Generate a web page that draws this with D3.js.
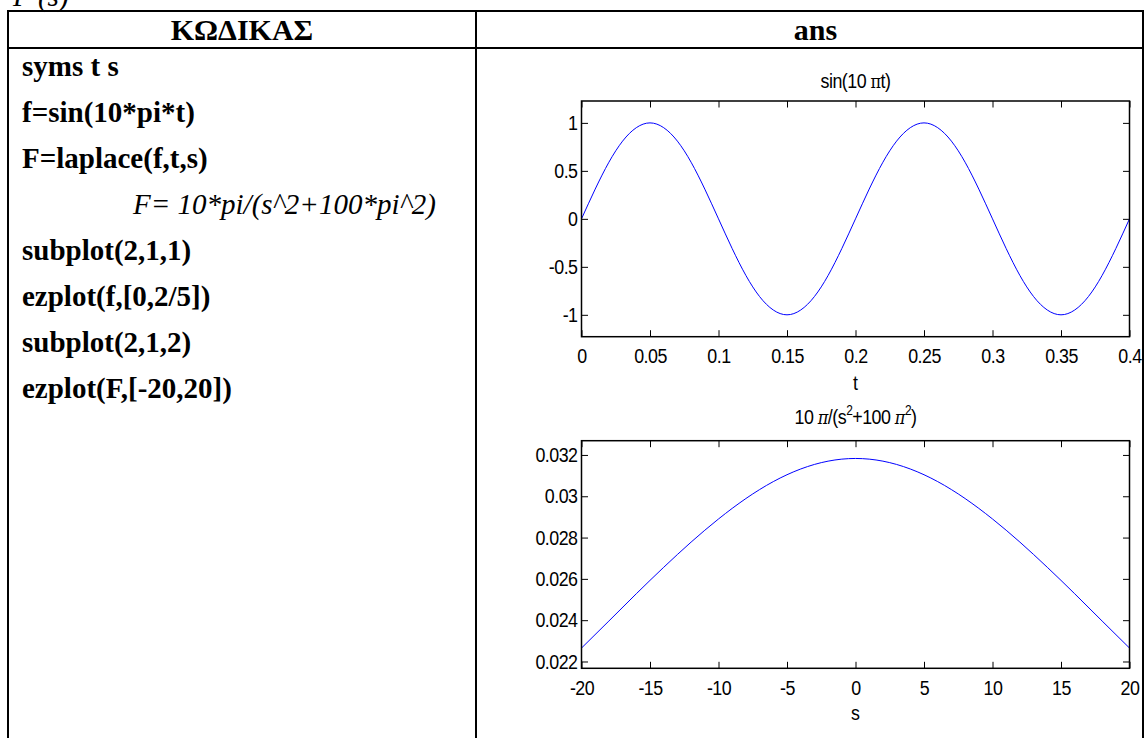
<!DOCTYPE html>
<html><head><meta charset="utf-8">
<script src="https://cdn.jsdelivr.net/npm/d3@7"></script>
<style>body{margin:0;background:#fff;} svg{display:block}</style>
</head><body>
<svg id="c" width="1145" height="738"></svg>
<script>
// ---- data ----
const topNote = "F (s)";
const headers = ["ΚΩΔΙΚΑΣ", "ans"];
const codeLines = ["syms t s", "f=sin(10*pi*t)", "F=laplace(f,t,s)", "F= 10*pi/(s^2+100*pi^2)",
  "subplot(2,1,1)", "ezplot(f,[0,2/5])", "subplot(2,1,2)", "ezplot(F,[-20,20])"];
const codeItalic = [false, false, false, true, false, false, false, false];

const tValues = [0,0.01,0.02,0.03,0.04,0.05,0.06,0.07,0.08,0.09,0.1,0.11,0.12,0.13,0.14,0.15,0.16,0.17,0.18,0.19,0.2,
  0.21,0.22,0.23,0.24,0.25,0.26,0.27,0.28,0.29,0.3,0.31,0.32,0.33,0.34,0.35,0.36,0.37,0.38,0.39,0.4];
const sinValues = [0,0.31,0.59,0.81,0.95,1,0.95,0.81,0.59,0.31,0,-0.31,-0.59,-0.81,-0.95,-1,-0.95,-0.81,-0.59,-0.31,0,
  0.31,0.59,0.81,0.95,1,0.95,0.81,0.59,0.31,0,-0.31,-0.59,-0.81,-0.95,-1,-0.95,-0.81,-0.59,-0.31,0];
const tTicks = [0,0.05,0.1,0.15,0.2,0.25,0.3,0.35,0.4];
const tTickLabels = ["0","0.05","0.1","0.15","0.2","0.25","0.3","0.35","0.4"];
const y1Ticks = [-1,-0.5,0,0.5,1];
const y1TickLabels = ["-1","-0.5","0","0.5","1"];

const sValues = [-20,-18,-16,-14,-12,-10,-8,-6,-4,-2,0,2,4,6,8,10,12,14,16,18,20];
const FValues = [0.02265,0.02396,0.02528,0.02656,0.02778,0.02890,0.02989,0.03071,0.03132,0.03170,0.03183,
  0.03170,0.03132,0.03071,0.02989,0.02890,0.02778,0.02656,0.02528,0.02396,0.02265];
const sTicks = [-20,-15,-10,-5,0,5,10,15,20];
const sTickLabels = ["-20","-15","-10","-5","0","5","10","15","20"];
const y2Ticks = [0.022,0.024,0.026,0.028,0.03,0.032];
const y2TickLabels = ["0.022","0.024","0.026","0.028","0.03","0.032"];

// ---- drawing ----
const svg = d3.select("#c");
const serif = "'Liberation Serif','Times New Roman',serif";
const sans = "'Liberation Sans',Arial,Helvetica,sans-serif";

// partial top note (cut by the page edge, as in the source)
svg.append("text").attr("x", 13).attr("y", 6).attr("font-family", serif)
  .attr("font-style", "italic").attr("font-size", 29).text(topNote);

// table lines
const T = {left: 8, mid: 476, right: 1143, top: 11, head: 48, bottom: 745};
const tl = svg.append("g").attr("stroke", "#000").attr("stroke-width", 2);
tl.append("line").attr("x1", T.left - 1).attr("x2", T.right + 1).attr("y1", T.top).attr("y2", T.top);
tl.append("line").attr("x1", T.left - 1).attr("x2", T.right + 1).attr("y1", T.head).attr("y2", T.head);
[T.left, T.mid, T.right].forEach(x => tl.append("line").attr("x1", x).attr("x2", x).attr("y1", T.top - 1).attr("y2", T.bottom));

// headers
svg.append("text").attr("x", (T.left + T.mid) / 2).attr("y", 40).attr("text-anchor", "middle")
  .attr("font-family", serif).attr("font-weight", "bold").attr("font-size", 30).text(headers[0]);
svg.append("text").attr("x", (T.mid + T.right) / 2 + 6).attr("y", 40).attr("text-anchor", "middle")
  .attr("font-family", serif).attr("font-weight", "bold").attr("font-size", 30).text(headers[1]);

// code lines
codeLines.forEach((s, i) => {
  svg.append("text").attr("x", codeItalic[i] ? 133 : 22).attr("y", 76 + i * 46)
    .attr("font-family", serif).attr("font-size", 29)
    .attr("font-weight", codeItalic[i] ? "normal" : "bold")
    .attr("font-style", codeItalic[i] ? "italic" : "normal")
    .text(s);
});

const FS = 21, SX = 0.85;
function squeeze(sel) {
  sel.each(function () {
    const t = d3.select(this);
    const x = +t.attr("x") || 0, y = +t.attr("y") || 0;
    t.attr("transform", `translate(${x},${y}) scale(${SX},1) translate(${-x},${-y})`);
  });
}
function drawPlot(cfg, id) {
  const x = d3.scaleLinear().domain(cfg.xDomain).range([cfg.x0, cfg.x1]);
  const y = d3.scaleLinear().domain(cfg.yDomain).range([cfg.y1, cfg.y0]);
  const g = svg.append("g");
  g.append("clipPath").attr("id", id).append("rect")
    .attr("x", cfg.x0).attr("y", cfg.y0).attr("width", cfg.x1 - cfg.x0).attr("height", cfg.y1 - cfg.y0);
  const style = sel => {
    sel.select(".domain").remove();
    sel.attr("font-family", sans).attr("font-size", FS);
    sel.selectAll("line").attr("stroke", "#000").attr("stroke-width", 1);
    sel.selectAll("text").attr("fill", "#000").attr("letter-spacing", -0.6).call(squeeze);
  };
  g.append("g").attr("transform", `translate(0,${cfg.y1})`)
    .call(d3.axisBottom(x).tickValues(cfg.xTicks).tickFormat((d, i) => cfg.xLabels[i])
      .tickSizeInner(-6.5).tickSizeOuter(0).tickPadding(cfg.xPad)).call(style);
  g.append("g").attr("transform", `translate(0,${cfg.y0})`)
    .call(d3.axisTop(x).tickValues(cfg.xTicks).tickFormat("").tickSizeInner(-6.5).tickSizeOuter(0)).call(style);
  g.append("g").attr("transform", `translate(${cfg.x0},0)`)
    .call(d3.axisLeft(y).tickValues(cfg.yTicks).tickFormat((d, i) => cfg.yLabels[i])
      .tickSizeInner(-6.5).tickSizeOuter(0).tickPadding(4)).call(style);
  g.append("g").attr("transform", `translate(${cfg.x1},0)`)
    .call(d3.axisRight(y).tickValues(cfg.yTicks).tickFormat("").tickSizeInner(-6.5).tickSizeOuter(0)).call(style);
  // curve
  g.append("path").datum(cfg.xs.map((v, i) => [v, cfg.ys[i]]))
    .attr("clip-path", `url(#${id})`)
    .attr("fill", "none").attr("stroke", "#0000ff").attr("stroke-width", 1)
    .attr("d", d3.line().x(d => x(d[0])).y(d => y(d[1])).curve(d3.curveNatural));
  // box
  g.append("rect").attr("x", cfg.x0).attr("y", cfg.y0).attr("width", cfg.x1 - cfg.x0).attr("height", cfg.y1 - cfg.y0)
    .attr("fill", "none").attr("stroke", "#000").attr("stroke-width", 1.5);
  // title and label
  const cx = (cfg.x0 + cfg.x1) / 2;
  const tt = g.append("text").attr("x", cx).attr("y", cfg.titleY).attr("text-anchor", "middle")
    .attr("font-family", sans).attr("font-size", FS).attr("letter-spacing", -0.6);
  cfg.title(tt);
  const xl = g.append("text").attr("x", cx).attr("y", cfg.xlabelY).attr("text-anchor", "middle")
    .attr("font-family", sans).attr("font-size", FS).text(cfg.xlabel);
  squeeze(tt); squeeze(xl);
}

drawPlot({
  x0: 581.5, x1: 1129.5, y0: 101, y1: 336.7,
  xDomain: [0, 0.4], yDomain: [-1.228, 1.228], xPad: 11,
  xTicks: tTicks, xLabels: tTickLabels, yTicks: y1Ticks, yLabels: y1TickLabels,
  xs: tValues, ys: sinValues, titleY: 88, xlabelY: 390.5, xlabel: "t",
  title: t => {
    t.append("tspan").text("sin(10 ");
    t.append("tspan").attr("font-family", "'DejaVu Serif',serif").attr("font-size", 19).text("π");
    t.append("tspan").text("t)");
  }
}, "clip1");

drawPlot({
  x0: 581.5, x1: 1129.5, y0: 440.7, y1: 668.3,
  xDomain: [-20, 20], yDomain: [0.02167, 0.03269], xPad: 12,
  xTicks: sTicks, xLabels: sTickLabels, yTicks: y2Ticks, yLabels: y2TickLabels,
  xs: sValues, ys: FValues, titleY: 424, xlabelY: 720.5, xlabel: "s",
  title: t => {
    t.append("tspan").text("10 ");
    t.append("tspan").attr("font-family", "'DejaVu Serif',serif").attr("font-style", "italic").attr("font-size", 19).text("π");
    t.append("tspan").text("/(s");
    t.append("tspan").attr("font-size", 14).attr("dy", -9).text("2");
    t.append("tspan").attr("dy", 9).text("+100 ");
    t.append("tspan").attr("font-family", "'DejaVu Serif',serif").attr("font-style", "italic").attr("font-size", 19).text("π");
    t.append("tspan").attr("font-size", 14).attr("dy", -9).text("2");
    t.append("tspan").attr("dy", 9).text(")");
  }
}, "clip2");
</script>
</body></html>
